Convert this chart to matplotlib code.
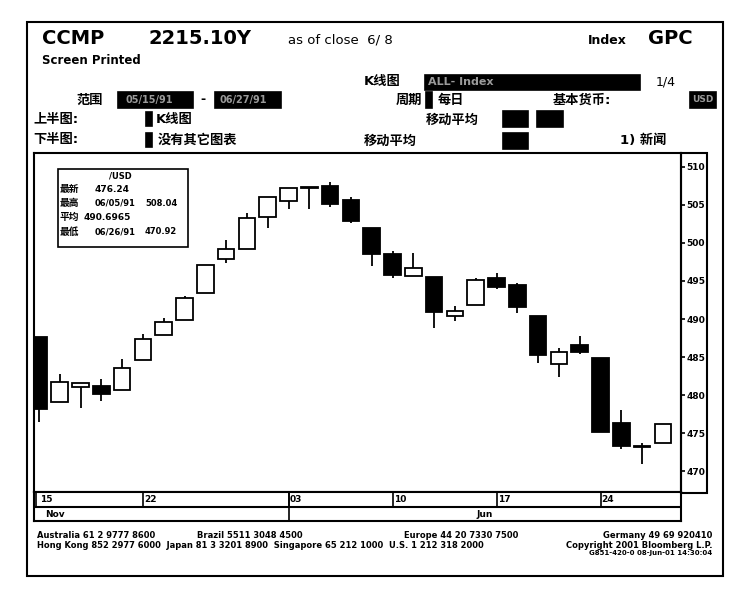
import matplotlib
matplotlib.use('Agg')
import matplotlib.pyplot as plt
from matplotlib.patches import Rectangle

plt.rcParams['font.family'] = ['DejaVu Sans', 'Noto Sans CJK SC']

W, H = 750, 591

# daily OHLC (index 0 = 15 May)
opens  = [487.63, 479.08, 481.05, 481.18, 480.66, 484.61, 487.90, 489.87, 493.42, 497.89,
          499.21, 503.42, 505.53, 507.30, 507.50, 505.66, 501.97, 498.55, 495.66, 495.53,
          490.39, 491.84, 495.39, 494.47, 490.39, 484.08, 486.58, 484.87, 476.32, 473.16, 473.68]
highs  = [487.63, 482.76, 481.58, 482.11, 484.74, 488.03, 490.13, 493.03, 497.11, 500.39,
          503.95, 506.05, 507.24, 507.30, 508.04, 506.05, 501.97, 498.95, 498.68, 495.53,
          491.71, 495.39, 496.05, 494.74, 490.39, 486.18, 487.76, 484.87, 478.03, 473.68, 476.24]
lows   = [476.45, 479.08, 478.29, 479.21, 480.66, 484.61, 487.90, 489.87, 493.42, 497.37,
          499.21, 501.97, 504.47, 504.47, 504.74, 502.63, 496.97, 495.39, 495.66, 488.82,
          489.74, 491.84, 493.95, 490.79, 484.21, 482.37, 485.39, 475.13, 472.89, 470.92, 473.68]
closes = [478.16, 481.71, 481.58, 480.13, 483.55, 487.37, 489.61, 492.76, 497.11, 499.21,
          503.29, 506.05, 507.24, 507.24, 505.13, 502.89, 498.55, 495.79, 496.71, 490.92,
          491.05, 495.13, 494.21, 491.58, 485.26, 485.66, 485.66, 475.13, 473.29, 473.16, 476.24]

yticks = [470, 475, 480, 485, 490, 495, 500, 505, 510]
day_pos = [0, 5, 12, 17, 22, 27]
day_labels = ['15', '22', '03', '10', '17', '24']
month_labels = ['Nov', 'Jun']
month_split = 12

info_rows = [('最新', '', '476.24'),
             ('最高', '06/05/91', '508.04'),
             ('平均', '', '490.6965'),
             ('最低', '06/26/91', '470.92')]


def fx(x):
    return x / W


def fy(y):
    return 1 - y / H


def box(fig, x0, y0, x1, y1, fill=True, lw=1.2):
    r = Rectangle((fx(x0), fy(y1)), fx(x1) - fx(x0), fy(y0) - fy(y1),
                  transform=fig.transFigure, facecolor='black' if fill else 'none',
                  edgecolor='black', linewidth=lw)
    fig.add_artist(r)


def txt(fig, x, y, s, size=9, weight='bold', ha='left', color='black', **kw):
    fig.text(fx(x), fy(y), s, fontsize=size, fontweight=weight, ha=ha, va='center',
             color=color, **kw)


fig = plt.figure(figsize=(7.5, 5.91), dpi=100)
fig.patch.set_facecolor('white')

# outer page frame
box(fig, 27, 22, 723, 576, fill=False, lw=1.5)

# header
txt(fig, 42, 38, 'CCMP', size=14)
txt(fig, 148, 38, '2215.10Y', size=14)
txt(fig, 288, 40, 'as of close  6/ 8', size=9.5, weight='normal')
txt(fig, 588, 40, 'Index', size=9)
txt(fig, 648, 38, 'GPC', size=14)
txt(fig, 42, 60, 'Screen Printed', size=8.5)

txt(fig, 364, 82, 'K线图', size=9.5)
box(fig, 425, 75, 640, 90)
txt(fig, 428, 82, 'ALL- Index', size=8, color='#9a9a9a')
txt(fig, 656, 82, '1/4', size=9, weight='normal')

txt(fig, 76, 100, '范围', size=9.5)
box(fig, 118, 92, 193, 108)
txt(fig, 125, 100, '05/15/91', size=7, color='#9a9a9a')
txt(fig, 200, 100, '-', size=9)
box(fig, 215, 92, 281, 108)
txt(fig, 220, 100, '06/27/91', size=7, color='#9a9a9a')

txt(fig, 396, 100, '周期', size=9.5)
box(fig, 426, 92, 432, 108)
txt(fig, 438, 100, '每日', size=9.5)
txt(fig, 553, 100, '基本货币:', size=9.5)
box(fig, 690, 92, 716, 108)
txt(fig, 692, 100, 'USD', size=6.5, color='#9a9a9a')

txt(fig, 33, 119, '上半图:', size=9.5)
box(fig, 146, 112, 152, 126)
txt(fig, 156, 119, 'K线图', size=9.5)
txt(fig, 426, 120, '移动平均', size=9.5)
box(fig, 503, 111, 528, 127)
box(fig, 537, 111, 563, 127)

txt(fig, 33, 140, '下半图:', size=9.5)
box(fig, 146, 133, 152, 147)
txt(fig, 158, 140, '没有其它图表', size=9.5)
txt(fig, 364, 141, '移动平均', size=9.5)
box(fig, 503, 133, 528, 149)
txt(fig, 620, 141, '1) 新闻', size=9.5)

# candlestick panel
L, R, T, B = 34, 681, 153, 492
ax = fig.add_axes([fx(L), fy(B), fx(R) - fx(L), fy(T) - fy(B)])
idx = list(range(len(opens)))
ax.vlines(idx, lows, highs, color='black', linewidth=1.3, zorder=1)
for i in idx:
    o, c = opens[i], closes[i]
    lo = min(o, c)
    h = max(abs(c - o), 0.12)
    face = 'white' if c > o else 'black'
    if abs(c - o) < 0.1:
        face = 'white'
    ax.bar(i, h, bottom=lo, width=0.8, color=face, edgecolor='black',
           linewidth=1.3, zorder=2)

ax.set_xlim(-0.24, 30.87)
ax.set_ylim(467.24, 511.84)
ax.set_xticks([])
ax.yaxis.tick_right()
ax.set_yticks(yticks)
ax.set_yticklabels([str(v) for v in yticks], fontsize=6.5, fontweight='bold')
ax.tick_params(axis='y', direction='out', length=3, width=1.2, pad=1)
for s in ax.spines.values():
    s.set_linewidth(1.5)

# y label column frame
box(fig, 681, 153, 707, 493, fill=False, lw=1.5)

# info box
box(fig, 58, 169, 188, 247, fill=False, lw=1.2)
txt(fig, 120, 176, '/USD', size=6, ha='center')
for k, (lab, d, v) in enumerate(info_rows):
    yy = [189, 203, 217, 232][k]
    txt(fig, 60, yy, lab, size=7)
    if d:
        txt(fig, 95, yy, d, size=6)
        txt(fig, 145, yy, v, size=6)
    elif k == 0:
        txt(fig, 95, yy, v, size=6.5)
    else:
        txt(fig, 84, yy, v, size=6.5)

# date rows
ax2 = fig.add_axes([fx(L), fy(521), fx(R) - fx(L), fy(492) - fy(521)])
ax2.set_xlim(-0.24, 30.87)
ax2.set_ylim(0, 2)
ax2.set_xticks([])
ax2.set_yticks([])
for s in ax2.spines.values():
    s.set_linewidth(1.5)
ax2.axhline(1, color='black', linewidth=1.5)
for p, lab in zip(day_pos, day_labels):
    ax2.vlines(p - 0.15 if p == 0 else p, 1, 2, color='black', linewidth=1.2)
    ax2.text(p + 0.05, 1.45, lab, fontsize=6.5, fontweight='bold', va='center')
ax2.vlines(month_split, 0, 2, color='black', linewidth=1.2)
ax2.text(0.3, 0.45, month_labels[0], fontsize=6.5, fontweight='bold', va='center')
ax2.text((month_split + 30.87) / 2, 0.45, month_labels[1], fontsize=6.5,
         fontweight='bold', va='center', ha='center')

# footer
txt(fig, 37, 535, 'Australia 61 2 9777 8600', size=6)
txt(fig, 197, 535, 'Brazil 5511 3048 4500', size=6)
txt(fig, 404, 535, 'Europe 44 20 7330 7500', size=6)
txt(fig, 712, 535, 'Germany 49 69 920410', size=6, ha='right')
txt(fig, 37, 545, 'Hong Kong 852 2977 6000  Japan 81 3 3201 8900  Singapore 65 212 1000  U.S. 1 212 318 2000',
    size=6)
txt(fig, 712, 545, 'Copyright 2001 Bloomberg L.P.', size=6, ha='right')
txt(fig, 712, 553, 'G851-420-0 08-Jun-01 14:30:04', size=5, ha='right')

fig.savefig('out.png', dpi=100, facecolor='white')
